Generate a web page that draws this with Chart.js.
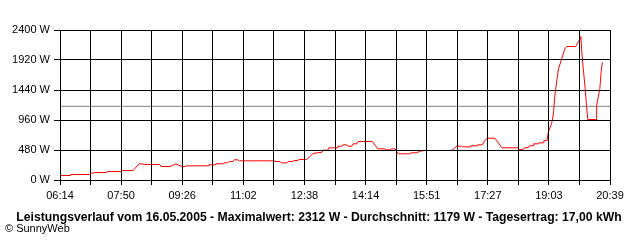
<!DOCTYPE html>
<html>
<head>
<meta charset="utf-8">
<script src="https://cdn.jsdelivr.net/npm/chart.js@4/dist/chart.umd.min.js"></script>
<style>
html,body{margin:0;padding:0;background:#fff;}
canvas{display:block;}
</style>
</head>
<body>
<canvas id="c" width="640" height="240"></canvas>
<script>
// ---- data ----
const startTime = '06:14';
const endTime = '20:39';
const timeLabels = ['06:14','07:50','09:26','11:02','12:38','14:14','15:51','17:27','19:03','20:39'];
const yTickValues = [0, 480, 960, 1440, 1920, 2400];
const times = ['06:14','06:30','06:31','07:01','07:03','07:09','07:27','07:29','07:50','07:52',
  '08:09','08:19','08:26','08:51','08:53','09:07','09:16','09:27','09:34','10:07',
  '10:08','10:18','10:19','10:30','10:32','10:38','10:40','10:46','10:48','10:54',
  '10:56','11:51','11:52','12:00','12:02','12:11','12:13','12:20','12:22','12:28',
  '12:30','12:42','12:52','13:06','13:08','13:15','13:17','13:30','13:31','13:37',
  '13:39','13:45','13:47','13:53','13:55','14:01','14:03','14:25','14:34','14:45',
  '14:47','14:53','14:55','15:01','15:06','15:24','15:26','15:35','15:40','15:48',
  '16:30','16:38','16:46','16:47','16:59','17:00','17:10','17:11','17:18','17:22',
  '17:26','17:38','17:49','18:14','18:16','18:22','18:24','18:30','18:32','18:38',
  '18:39','18:46','18:47','18:54','18:55','19:00','19:02','19:07','19:10','19:12',
  '19:15','19:18','19:23','19:28','19:31','19:45','19:49','19:52','19:53','19:55',
  '19:57','20:00','20:02','20:04','20:17','20:18','20:23','20:25','20:27'];
const power = [72,72,88,88,104,120,120,136,136,152,
  152,264,248,248,216,216,258,211,227,227,
  243,243,259,259,275,275,296,296,323,323,
  307,307,296,296,275,275,296,296,312,312,
  328,328,424,445,477,477,515,515,541,541,
  563,563,541,541,579,579,616,616,499,499,
  483,483,499,499,419,419,435,435,461,472,
  472,541,541,531,531,547,547,563,563,632,
  669,669,515,515,488,488,515,515,547,547,
  579,579,595,595,632,632,765,899,1059,1325,
  1565,1779,1939,2099,2136,2136,2205,2259,2296,2000,
  1779,1459,1192,968,968,1192,1459,1725,1885];
const averageW = 1179;
const titleText = 'Leistungsverlauf vom 16.05.2005 - Maximalwert: 2312 W - Durchschnitt: 1179 W - Tagesertrag: 17,00 kWh';
const footerText = '\u00A9 SunnyWeb';

// ---- helpers ----
const toMin = s => { const p = s.split(':'); return (+p[0]) * 60 + (+p[1]); };
const xMin = toMin(startTime), xMax = toMin(endTime);
const gridCount = (timeLabels.length - 1) * 2;
const powerPoints = times.map((t, i) => ({ x: toMin(t), y: power[i] }));
const avgPoints = [{ x: xMin, y: averageW }, { x: xMax, y: averageW }];

Chart.defaults.color = '#000';
Chart.defaults.font.family = '"Liberation Sans", Arial, sans-serif';
Chart.defaults.font.size = 11;

const textPlugin = {
  id: 'texts',
  afterDraw(chart) {
    const ctx = chart.ctx;
    ctx.save();
    ctx.fillStyle = '#000';
    ctx.textBaseline = 'alphabetic';
    ctx.font = 'bold 12.2px "Liberation Sans", Arial, sans-serif';
    ctx.textAlign = 'center';
    ctx.fillText(titleText, 319, 221);
    ctx.font = '11px "Liberation Sans", Arial, sans-serif';
    ctx.textAlign = 'left';
    ctx.fillText(footerText, 5, 232);
    ctx.restore();
  }
};

new Chart(document.getElementById('c'), {
  type: 'line',
  data: {
    datasets: [
      { data: powerPoints, borderColor: '#ff0000', borderWidth: 1, pointRadius: 0, tension: 0, fill: false },
      { data: avgPoints, borderColor: '#808080', borderWidth: 1, pointRadius: 0, tension: 0, fill: false }
    ]
  },
  options: {
    responsive: false,
    animation: false,
    layout: { padding: { left: 0, top: 30, right: 30, bottom: 0 } },
    plugins: { legend: { display: false }, tooltip: { enabled: false }, title: { display: false } },
    scales: {
      x: {
        type: 'linear',
        min: xMin, max: xMax,
        afterBuildTicks(scale) {
          const t = [];
          for (let i = 0; i <= gridCount; i++) t.push({ value: xMin + i * (xMax - xMin) / gridCount });
          scale.ticks = t;
        },
        afterFit(scale) { scale.height = 60; },
        grid: { color: '#000', lineWidth: 1, tickLength: 5, drawTicks: true, z: 1 },
        border: { color: '#000', width: 1, z: 1 },
        ticks: {
          autoSkip: false, maxRotation: 0, minRotation: 0, padding: 4,
          callback: (v, i) => (i % 2 === 0 ? timeLabels[i / 2] : '')
        }
      },
      y: {
        min: 0, max: 2400,
        afterBuildTicks(scale) { scale.ticks = yTickValues.map(v => ({ value: v })); },
        afterFit(scale) { scale.width = 60; },
        grid: { color: '#000', lineWidth: 1, tickLength: 6, drawTicks: true, z: 1 },
        border: { color: '#000', width: 1, z: 1 },
        ticks: { padding: 4, callback: v => v + ' W' }
      }
    }
  },
  plugins: [textPlugin]
});
</script>
</body>
</html>
